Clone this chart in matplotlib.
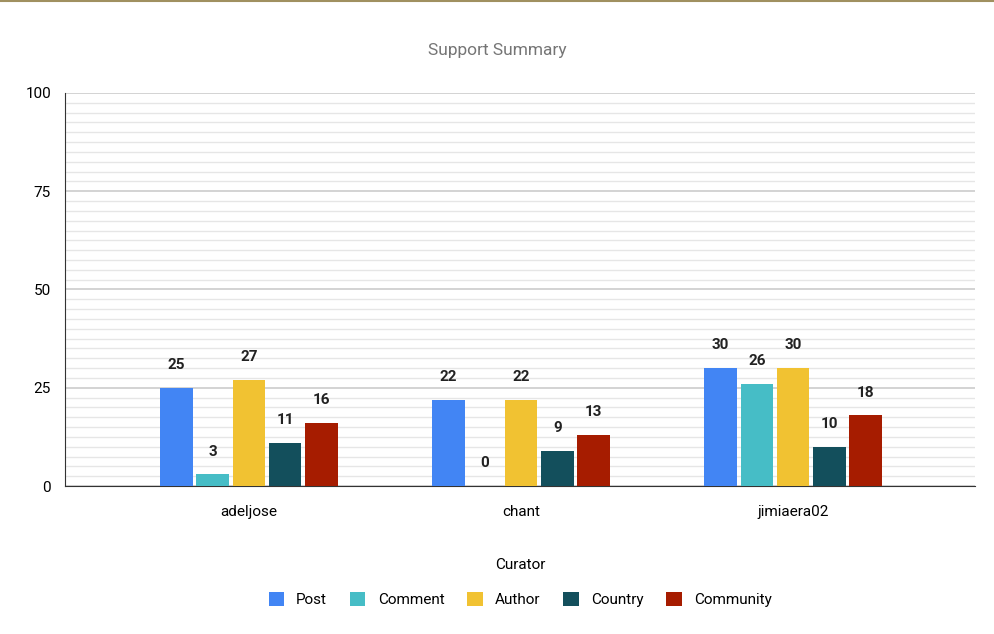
import numpy as np
import matplotlib.pyplot as plt

plt.rcParams['font.family'] = ['Roboto', 'DejaVu Sans']

curators = ["adeljose", "chant", "jimiaera02"]
series = ["Post", "Comment", "Author", "Country", "Community"]
post = [25, 22, 30]
comment = [3, 0, 26]
author = [27, 22, 30]
country = [11, 9, 10]
community = [16, 13, 18]
colors = ["#4285f4", "#46bdc6", "#f1c232", "#134f5c", "#a61c00"]

values = [post, comment, author, country, community]

fig = plt.figure(figsize=(9.95, 6.34), dpi=100)
fig.add_artist(plt.Line2D([0, 1], [0.9985, 0.9985], color="#a09060", lw=1.5))
ax = fig.add_axes([0.0653, 0.2334, 0.915, 0.62])

x = np.arange(len(curators))
w = 0.12
step = 0.133
for i, (name, vals) in enumerate(zip(series, values)):
    pos = x + (i - 2) * step
    bars = ax.bar(pos, vals, w, color=colors[i], label=name, zorder=3)
    for b, v in zip(bars, vals):
        ax.text(b.get_x() + w / 2, v + 4, str(v), ha="center", va="bottom",
                fontsize=11, fontweight="bold", color="#222222")

ax.set_xlim(-0.676, 2.67)
ax.set_ylim(0, 100)
ax.set_yticks([0, 25, 50, 75, 100])
ax.set_yticks(np.arange(0, 100, 2.5), minor=True)
ax.grid(axis="y", which="major", color="#cccccc", lw=1.2, zorder=0)
ax.grid(axis="y", which="minor", color="#e6e6e6", lw=1.0, zorder=0)
ax.tick_params(axis="both", which="both", length=0, labelsize=11)
ax.tick_params(axis="y", pad=10)
ax.tick_params(axis="x", pad=14)
ax.set_xticks(x)
ax.set_xticklabels(curators)
for s in ["top", "right"]:
    ax.spines[s].set_visible(False)
ax.spines["left"].set_color("#333333")
ax.spines["bottom"].set_color("#333333")
ax.set_xlabel("Curator", fontsize=11, labelpad=28)

fig.text(0.5, 0.914, "Support Summary", ha="center", fontsize=12.5, color="#757575")
ax.legend(loc="upper center", bbox_to_anchor=(0.5, -0.235), ncol=5, frameon=False,
          fontsize=11, handlelength=1.0, handleheight=1.0, columnspacing=1.5)

fig.savefig("out.png")
